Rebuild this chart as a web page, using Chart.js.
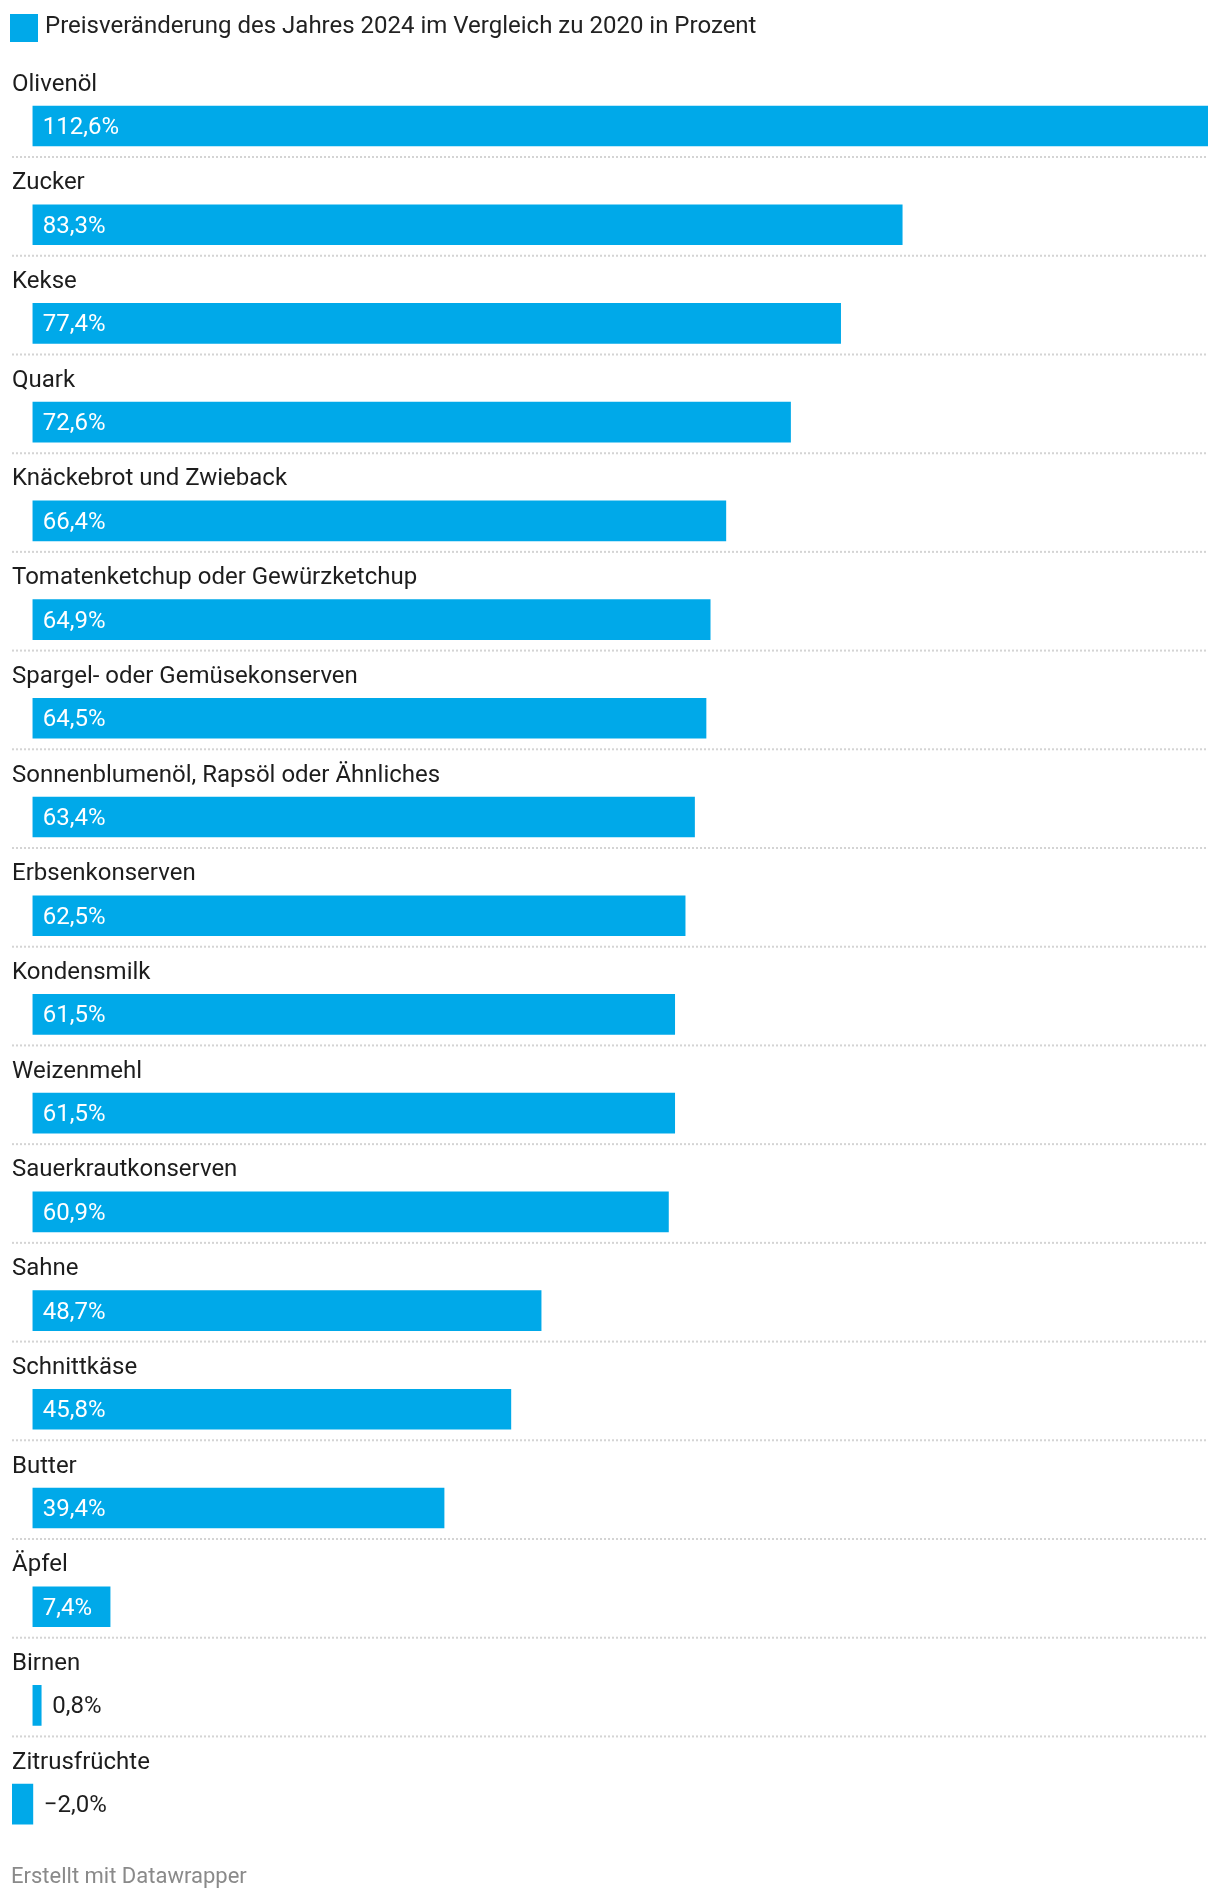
<!DOCTYPE html>
<html>
<head>
<meta charset="utf-8">
<script src="https://cdn.jsdelivr.net/npm/chart.js@4"></script>
<style>
  body { margin: 0; background: #fff; font-family: Roboto, sans-serif; }
  #wrap { position: relative; width: 1220px; height: 1902px; }
  #chart { position: absolute; left: 0; top: 0; }
  .legend { position: absolute; left: 10px; top: 14px; height: 28px; }
  .legend .box { position: absolute; left: 0; top: 0; width: 28px; height: 28px; background: #00a9e9; }
  .legend .txt { position: absolute; left: 35px; top: -1px; font-size: 24px; line-height: 24px; color: #222; white-space: nowrap; }
  .footer { position: absolute; left: 11px; top: 1865px; font-size: 22px; line-height: 22px; color: #8a8a8a; white-space: nowrap; }
</style>
</head>
<body>
<div id="wrap">
  <canvas id="chart" width="1220" height="1902"></canvas>
  <div class="legend"><span class="box"></span><span class="txt">Preisveränderung des Jahres 2024 im Vergleich zu 2020 in Prozent</span></div>
  <div class="footer">Erstellt mit Datawrapper</div>
</div>
<script>
let categories = ['Olivenöl', 'Zucker', 'Kekse', 'Quark', 'Knäckebrot und Zwieback',
  'Tomatenketchup oder Gewürzketchup', 'Spargel- oder Gemüsekonserven',
  'Sonnenblumenöl, Rapsöl oder Ähnliches', 'Erbsenkonserven', 'Kondensmilk',
  'Weizenmehl', 'Sauerkrautkonserven', 'Sahne', 'Schnittkäse', 'Butter',
  'Äpfel', 'Birnen', 'Zitrusfrüchte'];
let values = [112.6, 83.3, 77.4, 72.6, 66.4, 64.9, 64.5, 63.4, 62.5, 61.5, 61.5, 60.9, 48.7, 45.8, 39.4, 7.4, 0.8, -2.0];
let seriesName = 'Preisveränderung des Jahres 2024 im Vergleich zu 2020 in Prozent';

function fmt(v) {
  let s = Math.abs(v).toFixed(1).replace('.', ',') + '%';
  return v < 0 ? '\u2212' + s : s;
}

// labels above bars, values in/next to bars, dotted separators
const rowPlugin = {
  id: 'rowPlugin',
  afterDatasetsDraw(chart) {
    let ctx = chart.ctx;
    let area = chart.chartArea;
    let meta = chart.getDatasetMeta(0);
    ctx.save();
    for (let i = 0; i < meta.data.length; i++) {
      let bar = meta.data[i];
      let y = bar.y;
      // category label
      ctx.font = '24px Roboto';
      ctx.fillStyle = '#1d1d1d';
      ctx.textBaseline = 'alphabetic';
      ctx.textAlign = 'left';
      ctx.fillText(categories[i], 12, y - 35.5);
      // value label
      let txt = fmt(values[i]);
      let w = ctx.measureText(txt).width;
      let barW = bar.x - bar.base;
      if (values[i] >= 0 && barW >= w + 22) {
        ctx.fillStyle = '#ffffff';
        ctx.fillText(txt, bar.base + 10, y + 8);
      } else {
        ctx.fillStyle = '#1d1d1d';
        ctx.fillText(txt, Math.max(bar.x, bar.base) + 11, y + 8);
      }
      // dotted line
      if (i < meta.data.length - 1) {
        ctx.beginPath();
        ctx.strokeStyle = '#d4d4d4';
        ctx.lineWidth = 2;
        ctx.setLineDash([2, 2]);
        ctx.moveTo(area.left, y + 31);
        ctx.lineTo(area.right, y + 31);
        ctx.stroke();
        ctx.setLineDash([]);
      }
    }
    ctx.restore();
  }
};

new Chart(document.getElementById('chart'), {
  type: 'bar',
  data: {
    labels: categories,
    datasets: [{
      label: seriesName,
      data: values,
      backgroundColor: '#00a9e9',
      barThickness: 40,
      borderWidth: 0
    }]
  },
  options: {
    indexAxis: 'y',
    responsive: false,
    animation: false,
    devicePixelRatio: 1,
    layout: { padding: { top: 76.65, bottom: 48.5, left: 12, right: 12 } },
    plugins: {
      legend: { display: false },
      tooltip: { enabled: false }
    },
    scales: {
      x: { type: 'linear', min: -2, max: 112.6, display: false },
      y: { display: false }
    }
  },
  plugins: [rowPlugin]
});
</script>
</body>
</html>
